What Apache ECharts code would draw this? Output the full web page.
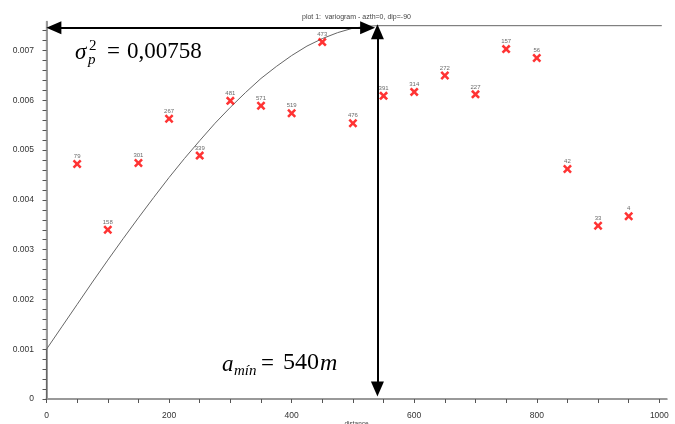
<!DOCTYPE html>
<html>
<head>
<meta charset="utf-8">
<script src="https://cdn.jsdelivr.net/npm/echarts@6/dist/echarts.min.js"></script>
<style>
  html, body { margin: 0; padding: 0; background: #fff; }
  #chart { width: 675px; height: 424px; }
</style>
</head>
<body>
<div id="chart"></div>
<script>
// experimental variogram (lag distance, gamma, number of pairs)
const lagDistances = [50, 100, 150, 200, 250, 300, 350, 400, 450, 500, 550, 600, 650, 700, 750, 800, 850, 900, 950]
const gammaValues = [0.00472, 0.00340, 0.00474, 0.00563, 0.00489, 0.00599, 0.00589, 0.00574, 0.00717, 0.00554,
  0.00609, 0.00617, 0.00650, 0.00612, 0.00703, 0.00685, 0.00462, 0.00348, 0.00367]
const pairCounts = ['79', '158', '301', '267', '339', '481', '571', '519', '473', '476',
  '391', '314', '272', '227', '157', '56', '42', '33', '4']

// fitted model curve
const modelDistances = [0, 0, 25, 50, 75, 100, 125, 150, 175, 200, 225, 250, 275, 300, 325, 350, 375, 400,
  425, 450, 475, 500, 525, 540, 1004]
const modelValues = [0, 0.00100, 0.00145, 0.00190, 0.00235, 0.00279, 0.00322, 0.00364, 0.00405, 0.00445,
  0.00483, 0.00519, 0.00554, 0.00586, 0.00616, 0.00644, 0.00668, 0.00690, 0.00709, 0.00724, 0.00736,
  0.00745, 0.00749, 0.00750, 0.00750]

// annotation arrows (sill and range)
const sillArrow = [[12, 0.00746], [524, 0.00746]]
const rangeArrow = [[540, 0.00738], [540, 0.0002]]

const xTickLabels = ['0', '200', '400', '600', '800', '1000']
const yTickLabels = ['0', '0.001', '0.002', '0.003', '0.004', '0.005', '0.006', '0.007']

const crossPath = 'path://M0,2 L2,0 L5,3 L8,0 L10,2 L7,5 L10,8 L8,10 L5,7 L2,10 L0,8 L3,5 Z'

const chart = echarts.init(document.getElementById('chart'), null, { renderer: 'canvas' })

const serif = '"Liberation Serif", "DejaVu Serif", serif'

const option = {
  backgroundColor: '#fff',
  animation: false,
  title: {
    text: 'plot 1:  variogram - azth=0, dip=-90',
    left: 297,
    top: 9,
    textStyle: { fontSize: 7, fontWeight: 'normal', color: '#444', fontFamily: 'Liberation Sans' }
  },
  grid: { left: 46.5, right: 8.3, top: 21.7, bottom: 25, outerBoundsMode: 'none' },
  xAxis: [
    {
      type: 'value',
      min: 0,
      max: 1012,
      interval: 50,
      offset: 3,
      name: 'distance',
      nameLocation: 'middle',
      nameGap: 19,
      nameMoveOverlap: false,
      nameTextStyle: { fontSize: 6.5, color: '#444', fontFamily: 'Liberation Sans' },
      axisLine: { lineStyle: { color: '#555', width: 1.2 } },
      axisTick: { length: 4, lineStyle: { color: '#555' } },
      axisLabel: {
        margin: 9,
        fontSize: 8.5,
        color: '#333',
        fontFamily: 'Liberation Sans',
        showMaxLabel: false,
        formatter: v => (v % 200 === 0 ? xTickLabels[v / 200] : '')
      },
      splitLine: { show: false }
    },
    {
      type: 'value',
      position: 'top',
      min: 0,
      max: 1012,
      axisLine: { lineStyle: { color: '#999', width: 2 } },
      axisTick: { show: false },
      axisLabel: { show: false },
      splitLine: { show: false }
    }
  ],
  yAxis: [
    {
      type: 'value',
      min: 0,
      max: 0.00758,
      interval: 0.0002,
      offset: 2.5,
      axisLine: { show: true, lineStyle: { color: '#555', width: 1.2 } },
      axisTick: { length: 4, lineStyle: { color: '#555' } },
      axisLabel: {
        margin: 10,
        fontSize: 8.5,
        color: '#333',
        fontFamily: 'Liberation Sans',
        showMaxLabel: false,
        formatter: v => {
          const k = Math.round(v * 1000)
          return Math.abs(v * 1000 - k) < 1e-6 ? (yTickLabels[k] || '') : ''
        }
      },
      splitLine: { show: false }
    },
    {
      type: 'value',
      position: 'right',
      min: 0,
      max: 0.00758,
      axisLine: { show: true, lineStyle: { color: '#999', width: 2 } },
      axisTick: { show: false },
      axisLabel: { show: false },
      splitLine: { show: false }
    }
  ],
  series: [
    {
      name: 'model',
      type: 'line',
      data: modelDistances.map((d, i) => [d, modelValues[i]]),
      symbol: 'none',
      clip: false,
      lineStyle: { color: '#666', width: 1 },
      z: 2,
      markLine: {
        silent: true,
        symbol: ['triangle', 'triangle'],
        symbolSize: [13, 15],
        lineStyle: { color: '#000', width: 2, type: 'solid' },
        label: { show: false },
        emphasis: { disabled: true },
        data: [
          [{ coord: sillArrow[0] }, { coord: sillArrow[1] }],
          [{ coord: rangeArrow[0] }, { coord: rangeArrow[1] }]
        ]
      }
    },
    {
      name: 'experimental',
      type: 'scatter',
      data: lagDistances.map((d, i) => [d, gammaValues[i]]),
      symbol: crossPath,
      symbolSize: 9,
      itemStyle: { color: '#ff0000' },
      label: {
        show: true,
        position: 'top',
        distance: 0,
        fontSize: 6,
        color: '#444',
        fontFamily: 'Liberation Sans',
        formatter: p => pairCounts[p.dataIndex]
      },
      z: 3
    }
  ],
  graphic: [
    { type: 'text', left: 75, top: 41, style: { text: 'σ', font: 'italic 23px ' + serif, fill: '#000' } },
    { type: 'text', left: 89, top: 39, style: { text: '2', font: '15px ' + serif, fill: '#000' } },
    { type: 'text', left: 88, top: 53, style: { text: 'p', font: 'italic 15px ' + serif, fill: '#000' } },
    { type: 'text', left: 107, top: 40, style: { text: '=', font: '23px ' + serif, fill: '#000' } },
    { type: 'text', left: 127, top: 40, style: { text: '0,00758', font: '23px ' + serif, fill: '#000' } },
    { type: 'text', left: 222, top: 353, style: { text: 'a', font: 'italic 23px ' + serif, fill: '#000' } },
    { type: 'text', left: 234, top: 364, style: { text: 'mín', font: 'italic 15px ' + serif, fill: '#000' } },
    { type: 'text', left: 261, top: 352, style: { text: '=', font: '23px ' + serif, fill: '#000' } },
    { type: 'text', left: 283, top: 351, style: { text: '540', font: '24px ' + serif, fill: '#000' } },
    { type: 'text', left: 320, top: 352, style: { text: 'm', font: 'italic 24px ' + serif, fill: '#000' } }
  ]
}

chart.setOption(option)
</script>
</body>
</html>
